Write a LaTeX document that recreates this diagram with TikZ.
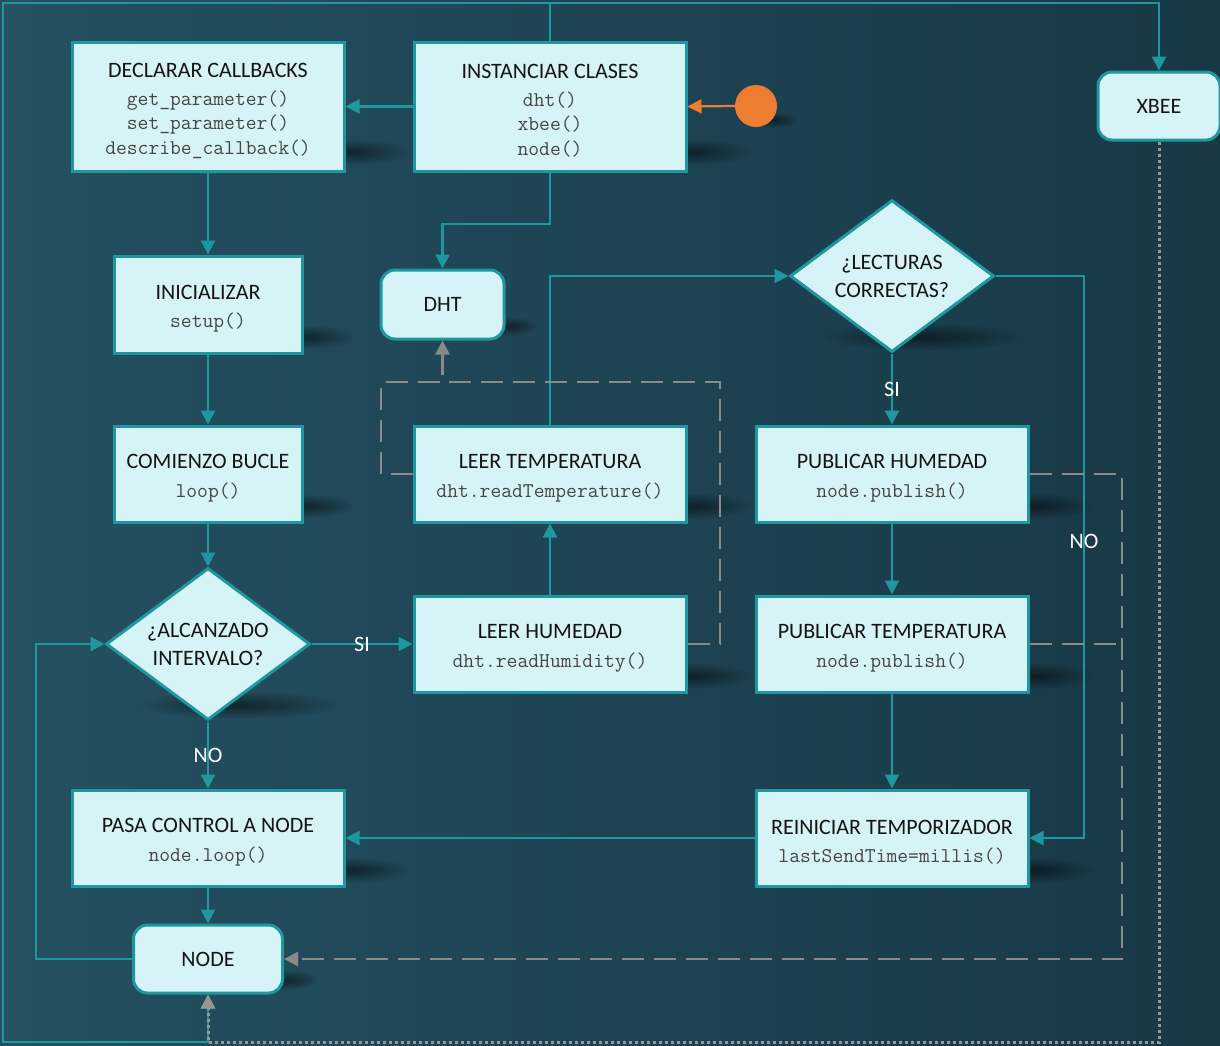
\documentclass[tikz,border=0pt]{standalone}
\usepackage{fontspec}
\setmainfont{Carlito}
\usetikzlibrary{arrows.meta,shapes.geometric,fadings}

\definecolor{boxfill}{RGB}{214,244,247}
\definecolor{tealc}{RGB}{30,152,158}
\definecolor{grayc}{RGB}{138,138,138}
\definecolor{dotc}{RGB}{150,150,150}
\definecolor{orangec}{RGB}{237,125,49}
\definecolor{codec}{RGB}{70,70,70}
\definecolor{titlec}{RGB}{20,20,20}
\definecolor{bgA}{RGB}{44,93,109}
\definecolor{bgB}{RGB}{31,70,86}
\definecolor{bgC}{RGB}{18,44,56}

\pgfdeclarehorizontalshading{bgshade}{100bp}{color(0bp)=(bgA); color(45bp)=(bgB); color(100bp)=(bgC)}
\tikzfading[name=softspot, inner color=transparent!50, outer color=transparent!100]
\pgfdeclarelayer{bg}
\pgfsetlayers{bg,main}

% title line inside a process box (the strut lowers the text block a little)
\newcommand{\ttl}[1]{{\fontsize{22}{26}\selectfont\rmfamily\color{titlec}\rule{0pt}{23pt}#1}}
% soft cast shadow under a shape
\newcommand{\castshadow}[4]{%
  \begin{pgfonlayer}{bg}
    \fill[black, path fading=softspot] (#1,#2) ellipse (#3pt and #4pt);
  \end{pgfonlayer}}

\tikzset{
  process/.style={draw=tealc, line width=3pt, fill=boxfill, inner sep=0pt, align=center,
    text=codec, font=\fontsize{21}{24.5}\selectfont\ttfamily},
  terminal/.style={draw=tealc, line width=3pt, fill=boxfill, rounded corners=14pt, inner sep=0pt,
    text=titlec, font=\fontsize{22}{26}\selectfont},
  decision/.style={diamond, draw=tealc, line width=3pt, fill=boxfill, inner sep=0pt, aspect=1.34,
    align=center, text=titlec, font=\fontsize{22}{28}\selectfont},
  flow/.style={draw=tealc, line width=2.2pt, -{Triangle[length=14pt,width=14pt]}},
  signal/.style={draw=grayc, line width=2.5pt, dash pattern=on 22pt off 10pt, -{Triangle[length=14pt,width=14pt]}},
  signalline/.style={draw=grayc, line width=2.5pt, dash pattern=on 22pt off 10pt},
  radiolink/.style={draw=dotc, line width=3pt, dash pattern=on 3pt off 3pt, -{Triangle[length=14pt,width=14pt]}},
  answer/.style={text=white, font=\fontsize{22}{26}\selectfont, inner sep=0pt},
}

\begin{document}
\begin{tikzpicture}[x=1pt,y=-1pt]
\useasboundingbox (0,0) rectangle (1220,1045);
\begin{pgfonlayer}{bg}
  \shade[shading=bgshade] (0,0) rectangle (1220,1045);
\end{pgfonlayer}

% shadows
\castshadow{350}{152}{60}{13}
\castshadow{692}{152}{60}{13}
\castshadow{1205}{132}{30}{9}
\castshadow{306}{337}{48}{12}
\castshadow{508}{326}{30}{10}
\castshadow{922}{337}{100}{14}
\castshadow{306}{506}{48}{12}
\castshadow{692}{506}{60}{13}
\castshadow{1034}{506}{60}{13}
\castshadow{238}{705}{100}{14}
\castshadow{692}{676}{60}{13}
\castshadow{1034}{676}{60}{13}
\castshadow{350}{870}{60}{13}
\castshadow{1034}{870}{60}{13}
\castshadow{288}{980}{30}{10}
\castshadow{774}{120}{25}{8}

% nodes
\node[process, minimum width=272pt, minimum height=129pt] (decl) at (208,106.5)
  {\ttl{DECLARAR CALLBACKS}\\[3pt] get\_parameter()\\ set\_parameter()\\ describe\_callback()};
\node[process, minimum width=272pt, minimum height=129pt] (inst) at (550,106.5)
  {\ttl{INSTANCIAR CLASES}\\[3pt] dht()\\ xbee()\\ node()};
\node[terminal, minimum width=122pt, minimum height=68pt] (xbee) at (1159,106) {XBEE};
\node[circle, fill=orangec, minimum size=42pt, inner sep=0pt] (start) at (756,106) {};
\node[process, minimum width=188pt, minimum height=97pt] (init) at (208,304.5)
  {\ttl{INICIALIZAR}\\[4pt] setup()};
\node[terminal, minimum width=123pt, minimum height=69pt] (dht) at (442.5,304.5) {DHT};
\node[decision, minimum width=204pt, minimum height=152pt] (lect) at (892,276)
  {¿LECTURAS\\CORRECTAS?};
\node[process, minimum width=188pt, minimum height=96pt] (bucle) at (208,474)
  {\ttl{COMIENZO BUCLE}\\[4pt] loop()};
\node[process, minimum width=272pt, minimum height=96pt] (ltemp) at (550,474)
  {\ttl{LEER TEMPERATURA}\\[4pt] dht.readTemperature()};
\node[process, minimum width=272pt, minimum height=96pt] (phum) at (892,474)
  {\ttl{PUBLICAR HUMEDAD}\\[4pt] node.publish()};
\node[decision, minimum width=204pt, minimum height=152pt] (alc) at (208,644)
  {¿ALCANZADO\\INTERVALO?};
\node[process, minimum width=272pt, minimum height=96pt] (lhum) at (550,644)
  {\ttl{LEER HUMEDAD}\\[4pt] dht.readHumidity()};
\node[process, minimum width=272pt, minimum height=96pt] (ptemp) at (892,644)
  {\ttl{PUBLICAR TEMPERATURA}\\[4pt] node.publish()};
\node[process, minimum width=272pt, minimum height=96pt] (pasa) at (208,838)
  {\ttl{PASA CONTROL A NODE}\\[4pt] node.loop()};
\node[process, minimum width=272pt, minimum height=96pt] (rein) at (892,838)
  {\ttl{REINICIAR TEMPORIZADOR}\\[4pt] lastSendTime=millis()};
\node[terminal, minimum width=149pt, minimum height=68pt] (nodeN) at (208,959) {NODE};

% bus coordinates along the outer frame
\coordinate (topbus) at (550,3);
\coordinate (tl) at (3,3);
\coordinate (bl) at (3,1042);
\coordinate (bm) at (208,1042);

% main flow
\draw[flow] (inst.north) -- (topbus) -| (xbee.north);
\draw[flow] (topbus) -- (tl) -- (bl) -- (bm) -- (nodeN.south);
\draw[flow, draw=orangec] (start.west) -- (inst.east);
\draw[flow] (inst.west) -- (decl.east);
\draw[flow] (inst.south) -- (550,224) -| (dht.north);
\draw[flow] (decl.south) -- (init.north);
\draw[flow] (init.south) -- (bucle.north);
\draw[flow] (bucle.south) -- (alc.north);
\draw[flow] (alc.east) -- (lhum.west) node[midway, answer] (si1) {SI};
\draw[flow] (alc.south) -- (pasa.north) node[midway, answer] (no1) {NO};
\draw[flow] (lhum.north) -- (ltemp.south);
\draw[flow] (ltemp.north) |- (lect.west);
\draw[flow] (lect.south) -- (phum.north) node[midway, answer] (si2) {SI};
\draw[flow] (lect.east) -- (1084,276) -- (1084,838) -- (rein.east);
\node[answer] (no2) at (1084,541) {NO};
\draw[flow] (phum.south) -- (ptemp.north);
\draw[flow] (ptemp.south) -- (rein.north);
\draw[flow] (rein.west) -- (pasa.east);
\draw[flow] (pasa.south) -- (nodeN.north);
\draw[flow] (nodeN.west) -- (36,959) -- (36,644) -- (alc.west);

% sensor and node links
\draw[signal] (ltemp.west) -- (381,474) -- (381,382) -- (442.5,382) -- (dht.south);
\draw[signalline] (lhum.east) -- (720,644) -- (720,382) -- (442.5,382);
\draw[signal] (phum.east) -- (1122,474) -- (1122,959) -- (nodeN.east);
\draw[signalline] (ptemp.east) -- (1122,644);
\draw[radiolink] (xbee.south) -- (1159,1042) -- (bm) -- (nodeN.south);
\end{tikzpicture}
\end{document}
